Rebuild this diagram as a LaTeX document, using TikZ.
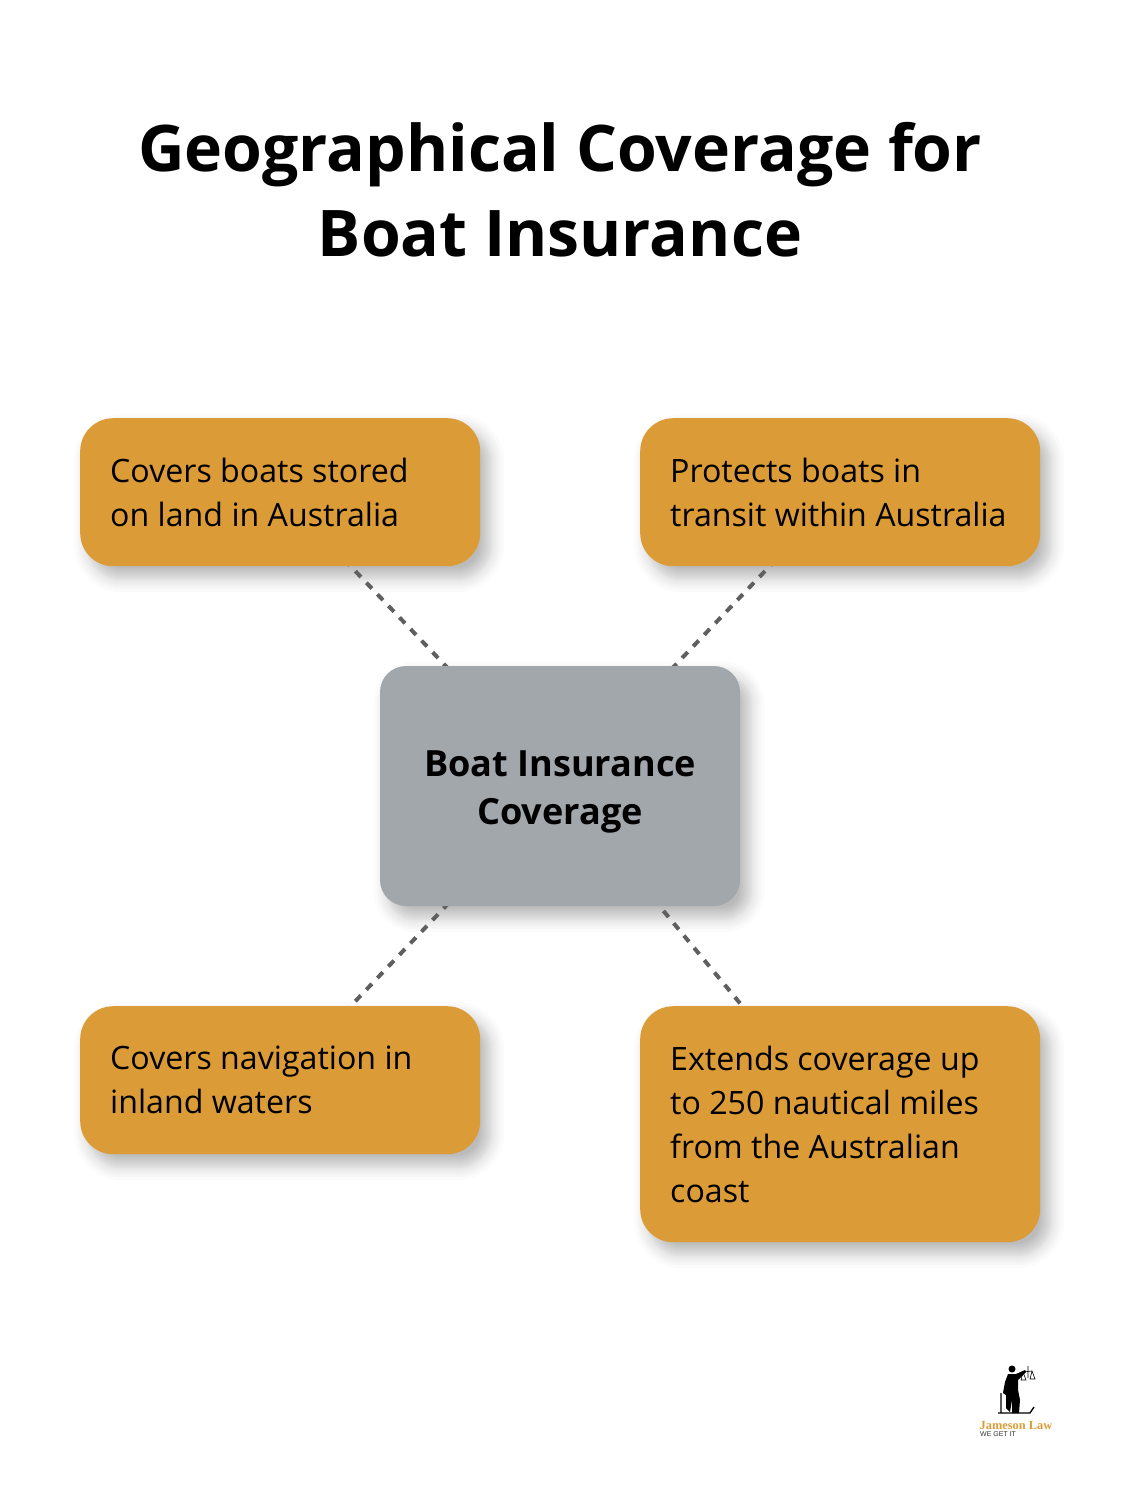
\documentclass[tikz,border=0pt]{standalone}
\usepackage{fontspec}
\setmainfont{Open Sans}
\newfontfamily\logofont{Liberation Serif}
\newfontfamily\taglinefont{Liberation Sans}
\usepackage{tikz}
\usetikzlibrary{backgrounds,calc}
\definecolor{boxorange}{HTML}{DB9C38}
\definecolor{boxgray}{HTML}{A2A7AB}
\definecolor{linegray}{HTML}{5F5F5F}
\tikzset{
  textbox/.style={fill=boxorange,rounded corners=33pt,minimum width=400pt,text width=340pt,inner xsep=30pt,inner ysep=0pt,anchor=north west,align=flush left,font=\fontsize{32.15}{44}\selectfont},
  hubbox/.style={fill=boxgray,rounded corners=26pt,minimum width=360pt,minimum height=240pt,inner sep=0pt},
  dashline/.style={draw=linegray,line width=4pt,dash pattern=on 8pt off 8pt,dash phase=3pt},
}
% soft shadow: stacked see-through copies of the box
\newcommand{\softshadow}[2]{
  \foreach \r in {-10,-9,...,4,6,8,10,12,15}
    \fill[black,opacity=0.014,rounded corners=#2+\r*1pt]
      ($(#1.south west)+(9-\r,11+\r)$) rectangle ($(#1.north east)+(9+\r,11-\r)$);
}
\begin{document}
\begin{tikzpicture}[x=1pt,y=-1pt]
\useasboundingbox (0,0) rectangle (1120,1502);
\node[font=\bfseries\fontsize{64.3}{85}\selectfont,align=center] (title) at (560,190)
  {Geographical Coverage for\\Boat Insurance};

\node[hubbox] (hub) at (560,786) {};
\node[font=\bfseries\fontsize{36.1}{48}\selectfont,align=center] (hubtext) at (560,792)
  {Boat Insurance\\Coverage};

\node[textbox,minimum height=148pt] (stored) at (80,418) {Covers boats stored\\on land in Australia};
\node[textbox,minimum height=148pt] (transit) at (640,418) {Protects boats in\\transit within Australia};
\node[textbox,minimum height=148pt] (inland) at (80,1006) {Covers navigation in\\inland waters};
\node[textbox,minimum height=236pt] (coast) at (640,1006) {Extends coverage up\\to 250 nautical miles\\from the Australian\\coast};

\begin{scope}[on background layer]
\softshadow{hub}{26pt}
\softshadow{stored}{33pt}
\softshadow{transit}{33pt}
\softshadow{inland}{33pt}
\softshadow{coast}{33pt}
\foreach \a in {stored,transit,inland,coast}
  \draw[dashline] (\a.center) -- (hub.center);
\end{scope}

% logo
\fill[black] (1012,1369) circle (3.5pt);
\fill[black] (1008,1374) -- (1016,1374) -- (1025,1370) -- (1026,1372) -- (1018,1380) -- (1018,1390) -- (1020,1400) -- (1019,1413) -- (1012,1413) -- (1012,1400) -- (1010,1412) -- (1006,1408) -- (1006,1395) -- (1003,1393) -- (1005,1382) -- cycle;
\draw[black,line width=0.6pt] (1028,1366) -- (1028,1378) (1023,1372) -- (1032,1371) (1023,1372) -- (1021,1380) -- (1026,1380) -- cycle (1032,1371) -- (1030,1379) -- (1035,1379) -- cycle;
\draw[black,line width=1.3pt] (1001,1393) -- (1001,1413) (998,1413) -- (1030,1413) -- (1034,1407);
\node[font=\logofont\bfseries\fontsize{12.4}{12.4}\selectfont,text=boxorange,inner sep=0pt] (logoname) at (1016,1425) {Jameson Law};
\node[font=\taglinefont\fontsize{7}{7}\selectfont,text=black!80,inner sep=0pt,anchor=west] (logotag) at (980,1434) {WE GET IT};
\end{tikzpicture}
\end{document}
